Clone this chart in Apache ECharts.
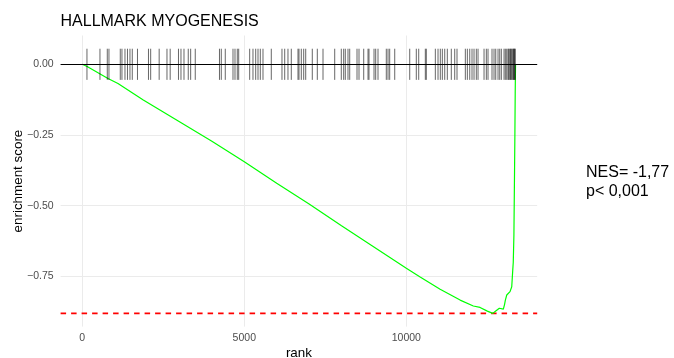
<!DOCTYPE html>
<html>
<head>
<meta charset="utf-8">
<script src="https://cdn.jsdelivr.net/npm/echarts@6/dist/echarts.min.js"></script>
<style>
html,body{margin:0;padding:0;background:#fff;}
#chart{width:674px;height:358px;}
</style>
</head>
<body>
<div id="chart"></div>
<script>
// ---- data ----
const chartTitle = 'HALLMARK MYOGENESIS';
const statLines = ['NES= -1,77', 'p< 0,001'];

// running enrichment score curve (rank, ES)
const esRank = [0, 150, 794, 1102, 1883, 3000, 4000, 5000, 6000, 7000, 8000, 9000, 10000,
  10426, 11043, 11660, 12068, 12275, 12500, 12667, 12720, 12769, 12870, 12994, 13030,
  13056, 13099, 13150, 13200, 13253, 13284, 13300, 13320, 13330, 13340, 13350, 13360, 13370];
const esValue = [0, -0.008, -0.050, -0.068, -0.126, -0.203, -0.272, -0.3445, -0.4205, -0.494, -0.5715, -0.6465, -0.7216,
  -0.752, -0.796, -0.834, -0.855, -0.860, -0.873, -0.881, -0.876, -0.872, -0.863, -0.866, -0.850,
  -0.834, -0.816, -0.810, -0.804, -0.787, -0.728, -0.700, -0.604, -0.600, -0.37, -0.25, -0.10, 0];

// ranks of the gene-set members (hit ticks)
const hitRanks = [145, 546, 772, 824, 1173, 1225, 1318, 1395, 1472, 1543, 1704, 2043, 2111, 2373, 2614,
  2713, 2969, 3046, 3139, 3271, 3345, 3487, 4234, 4290, 4413, 4651, 4713, 4784, 4827, 5166, 5268, 5352,
  5423, 5494, 5577, 5833, 6163, 6247, 6348, 6450, 6657, 6688, 6759, 6833, 6895, 7098, 7253, 7429, 7790,
  7993, 8067, 8117, 8200, 8253, 8478, 8540, 8685, 8818, 8848, 9003, 9055, 9126, 9382, 9435, 9487, 9642,
  10105, 10308, 10382, 10586, 10617, 10895, 10978, 11049, 11111, 11185, 11265, 11388, 11493, 11564,
  11821, 11883, 11957, 12027, 12089, 12160, 12213, 12398, 12469, 12521, 12644, 12706, 12759, 12830,
  12882, 12932, 13015, 13055, 13098, 13138, 13160, 13191, 13215, 13240, 13265, 13293, 13310, 13330,
  13345, 13360];
const nGenes = 13370;

// axis ticks
const xTickValues = [0, 5000, 10000];
const yTickValues = [0, -0.25, -0.5, -0.75];
const yTickLabels = ['0.00', '\u22120.25', '\u22120.50', '\u22120.75'];

// ---- derived ----
const minES = Math.min(...esValue);
const maxES = Math.max(...esValue);
const tickHalf = (maxES - minES) / 16;
const yLow = minES, yHigh = tickHalf;
const yPad = (yHigh - yLow) * 0.05;
const xPad = nGenes * 0.05;
const xMin = -xPad, xMax = nGenes + xPad;

const FONT = '"Liberation Sans", Arial, Helvetica, sans-serif';

const chart = echarts.init(document.getElementById('chart'), null, {renderer: 'canvas'});

const gridMarks = xTickValues.map(v => ({xAxis: v})).concat(yTickValues.map(v => ({yAxis: v})));

const option = {
  animation: false,
  backgroundColor: '#fff',
  title: {
    text: chartTitle,
    left: 60.5,
    top: 12,
    padding: 0,
    textStyle: {fontFamily: FONT, fontSize: 16, fontWeight: 'normal', color: '#000', lineHeight: 20}
  },
  graphic: [{
    type: 'text',
    left: 586,
    top: 163,
    style: {text: statLines.join('\n'), font: '16px ' + FONT, fill: '#000', lineHeight: 19}
  }],
  grid: {left: 60.6, right: 136.8, top: 35.5, bottom: 31.4, containLabel: false, outerBoundsMode: 'none'},
  xAxis: {
    type: 'value',
    min: xMin,
    max: xMax,
    name: 'rank',
    nameLocation: 'middle',
    nameGap: 20.5,
    nameMoveOverlap: false,
    nameTextStyle: {fontFamily: FONT, fontSize: 13.4, color: '#000'},
    axisLine: {show: false},
    splitLine: {show: false},
    axisTick: {show: true, length: 3.5, customValues: xTickValues, lineStyle: {color: '#333', width: 1}},
    axisLabel: {customValues: xTickValues, fontFamily: FONT, fontSize: 10.5, color: '#4d4d4d', margin: 6,
      formatter: v => String(v)}
  },
  yAxis: {
    type: 'value',
    min: yLow - yPad,
    max: yHigh + yPad,
    name: 'enrichment score',
    nameLocation: 'middle',
    nameGap: 36,
    nameMoveOverlap: false,
    nameTextStyle: {fontFamily: FONT, fontSize: 13.4, color: '#000'},
    axisLine: {show: false},
    splitLine: {show: false},
    axisTick: {show: true, length: 3.5, customValues: yTickValues, lineStyle: {color: '#333', width: 1}},
    axisLabel: {customValues: yTickValues, fontFamily: FONT, fontSize: 10.5, color: '#4d4d4d', margin: 7,
      formatter: v => { const i = yTickValues.findIndex(t => Math.abs(t - v) < 1e-9); return i >= 0 ? yTickLabels[i] : ''; }}
  },
  series: [
    {
      type: 'line', data: [], z: 1, silent: true,
      markLine: {silent: true, z: 1, symbol: ['none', 'none'], label: {show: false},
        lineStyle: {color: '#ebebeb', type: 'solid', width: 1}, data: gridMarks, animation: false}
    },
    {
      name: 'minES', type: 'line', z: 2, silent: true,
      data: [[xMin, minES], [xMax, minES]],
      showSymbol: false, symbol: 'none',
      itemStyle: {color: '#ff0000'},
      lineStyle: {color: '#ff0000', type: [5.5, 5], width: 1.6}
    },
    {
      type: 'line', z: 3, silent: true,
      data: esRank.map((r, i) => [r, esValue[i]]),
      showSymbol: false, symbol: 'none',
      itemStyle: {color: '#00ff00'},
      lineStyle: {color: '#00ff00', width: 1.2}
    },
    {
      type: 'custom', z: 4, silent: true,
      data: hitRanks.map(r => [r, 0]),
      encode: {x: 0, y: 1},
      renderItem: function (params, api) {
        const x = api.value(0);
        const p1 = api.coord([x, tickHalf]);
        const p2 = api.coord([x, -tickHalf]);
        return {type: 'line', shape: {x1: p1[0], y1: p1[1], x2: p2[0], y2: p2[1]},
          style: {stroke: 'rgba(0,0,0,0.6)', lineWidth: 1}};
      }
    },
    {
      type: 'line', data: [], z: 5, silent: true,
      markLine: {silent: true, z: 6, symbol: ['none', 'none'], label: {show: false},
        lineStyle: {color: '#000', type: 'solid', width: 1.2}, data: [{yAxis: 0}], animation: false}
    }
  ]
};
chart.setOption(option);
</script>
</body>
</html>
